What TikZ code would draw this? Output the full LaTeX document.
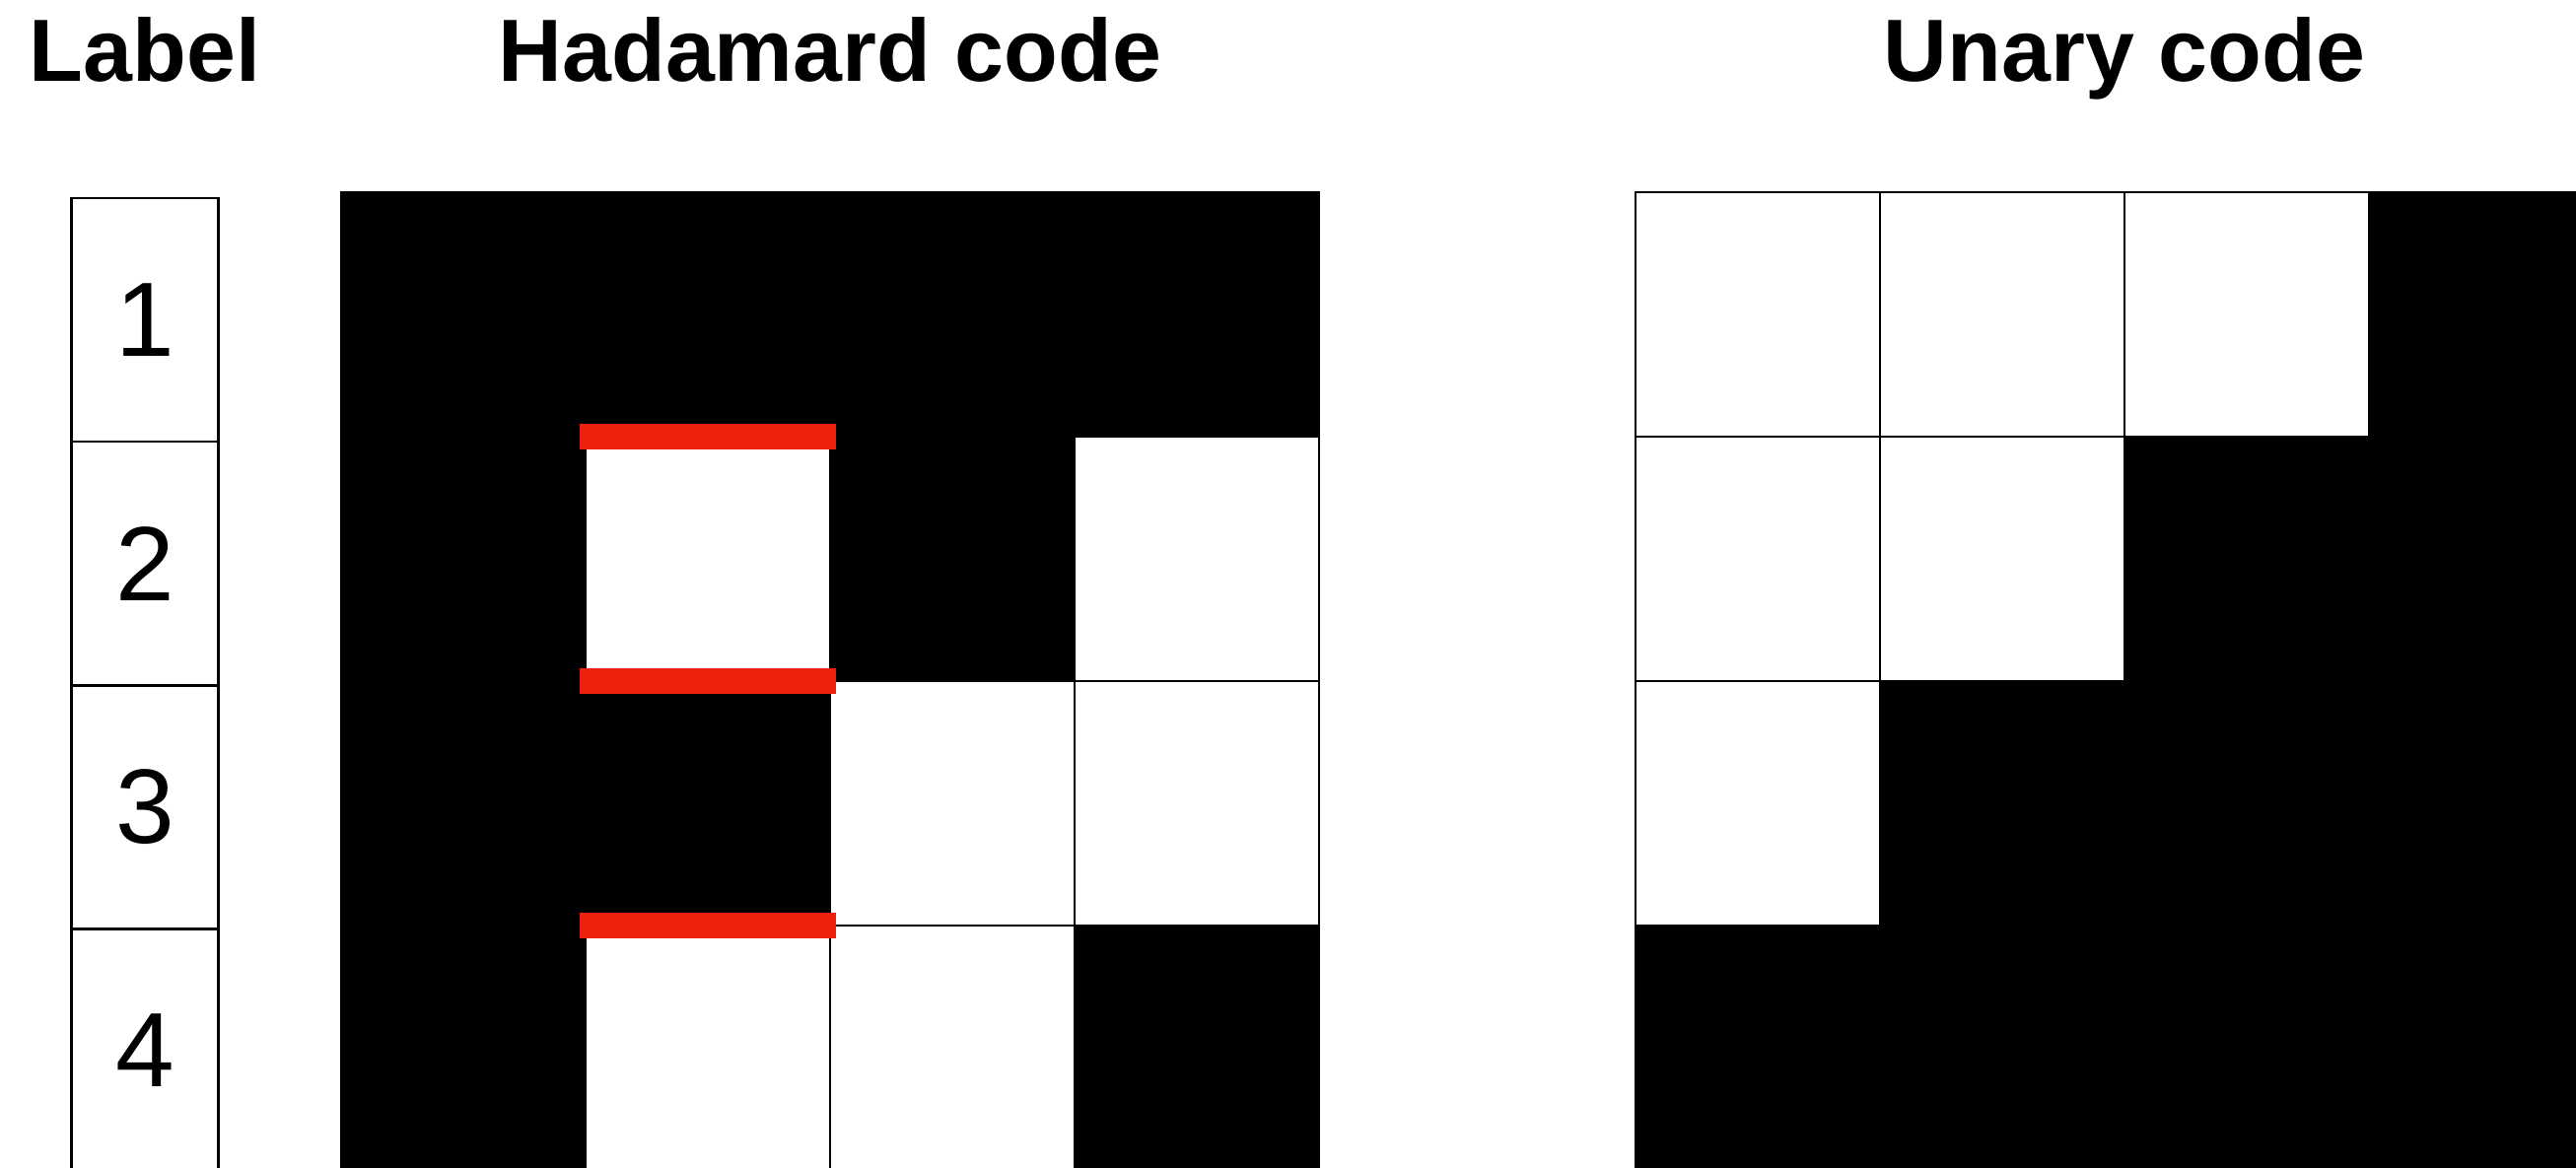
\documentclass[tikz,border=0pt]{standalone}
\usepackage{fontspec}
\setmainfont{Liberation Sans}
\usetikzlibrary{positioning}
\definecolor{barred}{RGB}{237,33,14}

\begin{document}
\begin{tikzpicture}[
    x=0.01cm, y=0.01cm,
    title/.style={font=\bfseries\fontsize{25.5}{30}\selectfont, anchor=base},
    labelcell/.style={rectangle, draw, line width=0.75pt, outer sep=0pt, inner sep=0pt,
        minimum width=1.485cm, minimum height=2.47cm, font=\fontsize{30.5}{36}\selectfont},
    bit/.style={rectangle, draw, line width=0.6pt, outer sep=0pt, inner sep=0pt,
        minimum size=2.48cm, anchor=north west},
    redbar/.style={fill=barred}
]
\useasboundingbox (0,0) rectangle (2613,-1184);

% titles
\node[title] (labeltitle) at (147,-82) {Label};
\node[title] (hadtitle) at (842,-82) {Hadamard code};
\node[title] (unatitle) at (2155,-82) {Unary code};

% label column
\node[labelcell] (lab1) at (147,-324.5) {1};
\node[labelcell, below=0pt of lab1] (lab2) {2};
\node[labelcell, below=0pt of lab2] (lab3) {3};
\node[labelcell, below=0pt of lab3] (lab4) {4};

% Hadamard code
\foreach \row [count=\r] in {{1,1,1,1},{1,0,1,0},{1,1,0,0},{1,0,0,1}}
  \foreach \b [count=\c] in \row {
    \ifnum\b=1 \def\tone{black}\else\def\tone{white}\fi
    \node[bit, fill=\tone] (had-\r-\c) at ({346+(\c-1)*248},{-195-(\r-1)*248}) {};
  }

% Unary code
\foreach \row [count=\r] in {{0,0,0,1},{0,0,1,1},{0,1,1,1},{1,1,1,1}}
  \foreach \b [count=\c] in \row {
    \ifnum\b=1 \def\tone{black}\else\def\tone{white}\fi
    \node[bit, fill=\tone] (una-\r-\c) at ({1659+(\c-1)*248},{-195-(\r-1)*248}) {};
  }

% red bars
\fill[redbar] ([shift={(-6,13)}]had-2-2.north west) rectangle ([shift={(6,-13)}]had-2-2.north east);
\fill[redbar] ([shift={(-6,13)}]had-2-2.south west) rectangle ([shift={(6,-13)}]had-2-2.south east);
\fill[redbar] ([shift={(-6,13)}]had-4-2.north west) rectangle ([shift={(6,-13)}]had-4-2.north east);
\end{tikzpicture}
\end{document}
